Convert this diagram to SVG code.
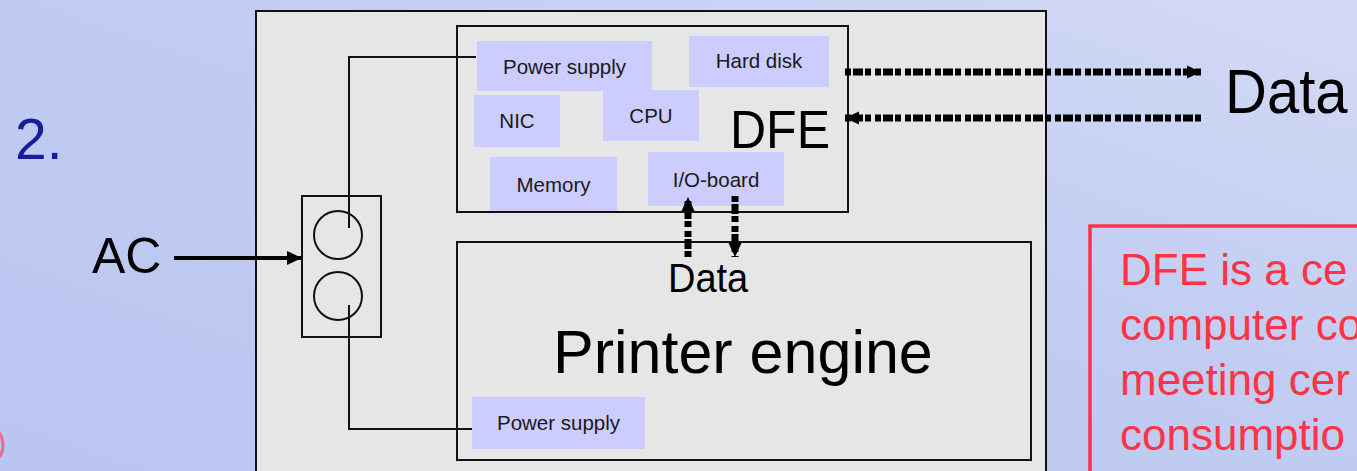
<svg xmlns="http://www.w3.org/2000/svg" width="1357" height="471" viewBox="0 0 1357 471">
<defs>
<linearGradient id="bg" x1="0" y1="1" x2="1" y2="0">
<stop offset="0" stop-color="#BAC6F0"/>
<stop offset="0.55" stop-color="#C1CCF2"/>
<stop offset="1" stop-color="#D3DAF5"/>
</linearGradient>
<marker id="ah" markerUnits="userSpaceOnUse" markerWidth="15" markerHeight="15" refX="14" refY="7.5" orient="auto"><path d="M0,1 L14,7.5 L0,14 z" fill="#000"/></marker>
<marker id="ahs" markerUnits="userSpaceOnUse" markerWidth="16" markerHeight="16" refX="15" refY="8" orient="auto"><path d="M0,1 L15,8 L0,15 z" fill="#000"/></marker>
<style>
.box{fill:none;stroke:#111;stroke-width:2}
.comp{fill:#CCCCFF}
.lbl{font-family:"Liberation Sans",Arial,sans-serif;font-size:20.5px;fill:#1a1a1a;text-anchor:middle}
.big{font-family:"Liberation Sans",Arial,sans-serif;fill:#000}
.wire{fill:none;stroke:#111;stroke-width:2}
.dash{fill:none;stroke:#000;stroke-width:7;stroke-dasharray:6 2 10 2 6 4}
.red{font-family:"Liberation Sans",Arial,sans-serif;font-size:44px;fill:#FF3344}
</style>
</defs>
<rect x="0" y="0" width="1357" height="471" fill="url(#bg)"/>
<circle cx="-18" cy="445" r="21" fill="none" stroke="#FF5070" stroke-width="3" opacity="0.8"/>
<text x="15" y="159" font-family="'Liberation Sans',Arial,sans-serif" font-size="57" fill="#1C1C98">2.</text>

<g id="device">
<rect x="256" y="11" width="790" height="480" fill="#E6E6E6" stroke="#111" stroke-width="2"/>
</g>

<g id="dfe">
<g id="dfe-power-supply"><rect class="comp" x="477" y="41" width="175" height="50"/><text class="lbl" x="564.5" y="74">Power supply</text></g>
<g id="dfe-hard-disk"><rect class="comp" x="689" y="36" width="140" height="51"/><text class="lbl" x="759" y="68">Hard disk</text></g>
<g id="dfe-nic"><rect class="comp" x="474" y="95" width="86" height="52"/><text class="lbl" x="517" y="128">NIC</text></g>
<g id="dfe-cpu"><rect class="comp" x="603" y="90" width="96" height="51"/><text class="lbl" x="651" y="123">CPU</text></g>
<g id="dfe-memory"><rect class="comp" x="490" y="157" width="127" height="55"/><text class="lbl" x="553.5" y="192">Memory</text></g>
<g id="dfe-io-board"><rect class="comp" x="648" y="152" width="136" height="54"/><text class="lbl" x="716" y="187">I/O-board</text></g>
<rect class="box" x="457" y="26" width="391" height="186"/>
<text class="big" transform="translate(730,148) scale(1,1.06)" x="0" y="0" font-size="50">DFE</text>
</g>

<g id="printer-engine">
<rect class="box" x="457" y="242" width="574" height="218"/>
<g id="pe-power-supply"><rect class="comp" x="472" y="397" width="173" height="52"/><text class="lbl" x="558.5" y="430">Power supply</text></g>
<text class="big" x="553" y="373" font-size="61">Printer engine</text>
</g>

<g id="outlet">
<rect class="box" x="302" y="196" width="79" height="141"/>
<circle cx="338" cy="235" r="24" fill="none" stroke="#111" stroke-width="2"/>
<circle cx="338" cy="296" r="24" fill="none" stroke="#111" stroke-width="2"/>
</g>

<g id="ac-label"><text class="big" x="92" y="273" font-size="50">AC</text></g>
<g id="data-label"><text class="big" transform="translate(1225,113) scale(1,1.08)" x="0" y="0" font-size="58">Data</text></g>
<g id="data-mid-label"><text class="big" transform="translate(668,292) scale(1,1.06)" x="0" y="0" font-size="38">Data</text></g>

<g id="connectors">
<path class="wire" d="M349,228 V57 H476"/>
<path class="wire" d="M349,305 V429 H472"/>
<line x1="174" y1="258" x2="302" y2="258" stroke="#000" stroke-width="4" marker-end="url(#ahs)"/>
<line class="dash" x1="845" y1="72" x2="1201" y2="72" marker-end="url(#ah)"/>
<line class="dash" x1="1201" y1="118" x2="845" y2="118" marker-end="url(#ah)"/>
<line class="dash" x1="688" y1="257" x2="688" y2="197" marker-end="url(#ah)"/>
<line class="dash" x1="735" y1="196" x2="735" y2="257" marker-end="url(#ah)"/>
</g>

<g id="note">
<rect x="1090" y="226" width="300" height="300" fill="none" stroke="#FF3344" stroke-width="3.5"/>
<text class="red" x="1120" y="285">DFE is a ce</text>
<text class="red" x="1120" y="340">computer co</text>
<text class="red" x="1120" y="395">meeting cer</text>
<text class="red" x="1120" y="450">consumptio</text>
</g>
</svg>
